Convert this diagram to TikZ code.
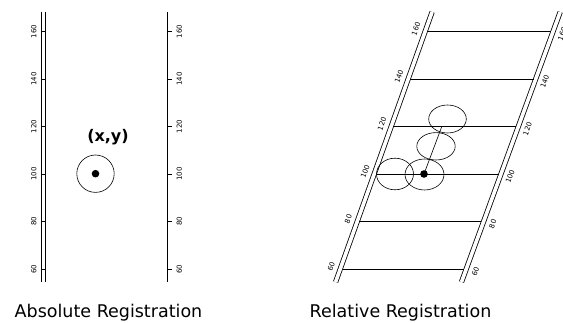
\documentclass[tikz,border=0pt]{standalone}
\usepackage{fontspec}
\usetikzlibrary{shapes.geometric}
\newfontfamily\dejavu{DejaVu Sans}
\newcommand{\titlefont}{\dejavu\fontsize{17.5}{20}\selectfont}
\newcommand{\markfont}{\dejavu\bfseries\fontsize{16}{18}\selectfont}
\newcommand{\numfont}{\dejavu\fontsize{7}{8}\selectfont}

\begin{document}
\begin{tikzpicture}[x=1pt, y=-1pt,
  rail/.style={draw=black, line width=0.8pt, double, double distance=3.6pt},
  rung/.style={line width=0.8pt},
  tickmark/.style={line width=0.7pt},
  num/.style={font=\numfont, inner sep=4.5pt},
  ring/.style={draw, line width=0.6pt, inner sep=0pt},
  spot/.style={fill=black},
  title/.style={font=\titlefont},
]
\useasboundingbox (0,0) rectangle (563,323);
% ---------------- absolute registration
\coordinate (A1top) at (43.4,12);  \coordinate (A1bot) at (43.4,282);
\coordinate (A2top) at (169.8,12); \coordinate (A2bot) at (169.8,282);
\draw[rail] (A1top) -- (A1bot);
\draw[rail] (A2top) -- (A2bot);
\foreach \v in {60,80,...,160}{
  \pgfmathsetmacro{\yy}{174-(\v-100)*2.375}
  \coordinate (a\v) at (43.4,\yy);
  \coordinate (b\v) at (169.8,\yy);
  \draw[tickmark] ([xshift=-2.2pt]a\v) -- ([xshift=2.2pt]a\v);
  \draw[tickmark] ([xshift=-2.2pt]b\v) -- ([xshift=2.2pt]b\v);
  \node[num, rotate=90, anchor=south] at ([xshift=-2.2pt]a\v) {\v};
  \node[num, rotate=90, anchor=north] at ([xshift=2.2pt]b\v) {\v};
}
\node[ring, circle, minimum size=37.4pt] (P) at (95.5,173.7) {};
\fill[spot] (P.center) circle[radius=3.8pt];
\node[font=\markfont] (Plab) at (108,137) {(x,y)};
% ---------------- relative registration
\coordinate (L1top) at (432.1,12);  \coordinate (L1bot) at (335.6,282);
\coordinate (L2top) at (560.2,12);  \coordinate (L2bot) at (461.5,282);
\draw[rail] (L1top) -- (L1bot);
\draw[rail] (L2top) -- (L2bot);
\foreach \v in {60,80,...,160}{
  \pgfmathsetmacro{\yy}{174-(\v-100)*2.375}
  \pgfmathsetmacro{\xl}{426-(\yy-29)*0.357}
  \pgfmathsetmacro{\xr}{554-(\yy-29)*0.3655}
  \coordinate (l\v) at (\xl,\yy);
  \coordinate (r\v) at (\xr,\yy);
  \draw[rung] ([xshift=2.2pt]l\v) -- ([xshift=-2.2pt]r\v);
  \node[num, rotate=70, anchor=south] at ([xshift=-2.2pt]l\v) {\v};
  \node[num, rotate=70, anchor=north] at ([xshift=2.2pt]r\v) {\v};
}
\node[ring, ellipse, minimum width=37pt, minimum height=31.6pt] (E1) at (395,174) {};
\node[ring, ellipse, minimum width=39pt, minimum height=31pt] (E2) at (424.5,174.5) {};
\node[ring, ellipse, minimum width=38.4pt, minimum height=27.4pt] (E3) at (436,146.3) {};
\node[ring, ellipse, minimum width=37.6pt, minimum height=28pt] (E4) at (447.5,119) {};
\coordinate (D) at (424,174);
\coordinate (Dup) at (441.8,126.5);
\draw[line width=0.6pt] (D) -- (Dup);
\fill[spot] (D) circle[radius=3.8pt];
% ---------------- captions
\node[title, anchor=base] (Tabs) at (108.5,317.5) {Absolute Registration};
\node[title, anchor=base] (Trel) at (400.5,317.5) {Relative Registration};
\end{tikzpicture}
\end{document}
